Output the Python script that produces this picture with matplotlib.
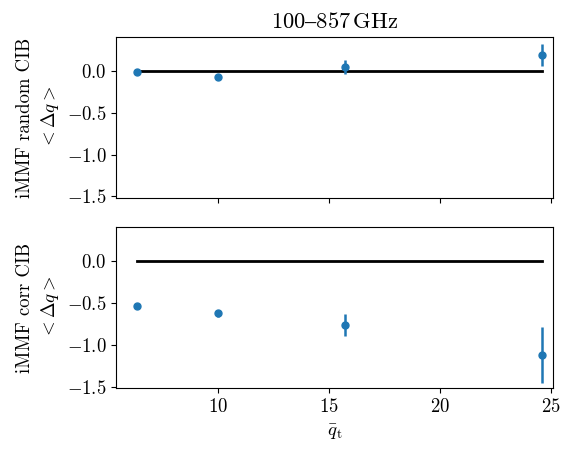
import matplotlib
matplotlib.use("Agg")
from matplotlib import pyplot as plt

plt.rcParams['font.family'] = ['cmr10', 'DejaVu Serif']
plt.rcParams['mathtext.fontset'] = 'cm'
plt.rcParams['axes.formatter.use_mathtext'] = True
plt.rcParams['font.size'] = 13.5

q_t = [6.35, 10.0, 15.7, 24.6]

dq_random = [-0.01, -0.07, 0.05, 0.19]
err_random = [0.02, 0.03, 0.08, 0.13]

dq_corr = [-0.54, -0.62, -0.76, -1.12]
err_corr = [0.02, 0.04, 0.13, 0.33]

fig, (ax1, ax2) = plt.subplots(2, 1, sharex=True, figsize=(5.61, 4.49), dpi=100)
fig.subplots_adjust(left=0.207, right=0.986, top=0.918, bottom=0.135, hspace=0.18)

for ax, dq, err, name in [(ax1, dq_random, err_random, 'random'),
                          (ax2, dq_corr, err_corr, 'corr')]:
    ax.plot([q_t[0], q_t[-1]], [0, 0], color='k', lw=2)
    ax.errorbar(q_t, dq, yerr=err, fmt='o', ms=5, color='C0', elinewidth=1.8)
    ax.set_ylim(-1.52, 0.41)
    ax.set_yticks([0.0, -0.5, -1.0, -1.5])
    ax.set_ylabel('iMMF %s CIB\n$<\\Delta q>$' % name, linespacing=1.3)

ax1.set_xlim(5.4, 25.1)
ax1.set_xticks([10, 15, 20, 25])
ax1.set_title('100$\u2013$857$\\,$GHz')
ax2.set_xlabel(r'$\bar{q}_{\rm t}$')

plt.savefig('out.png')
